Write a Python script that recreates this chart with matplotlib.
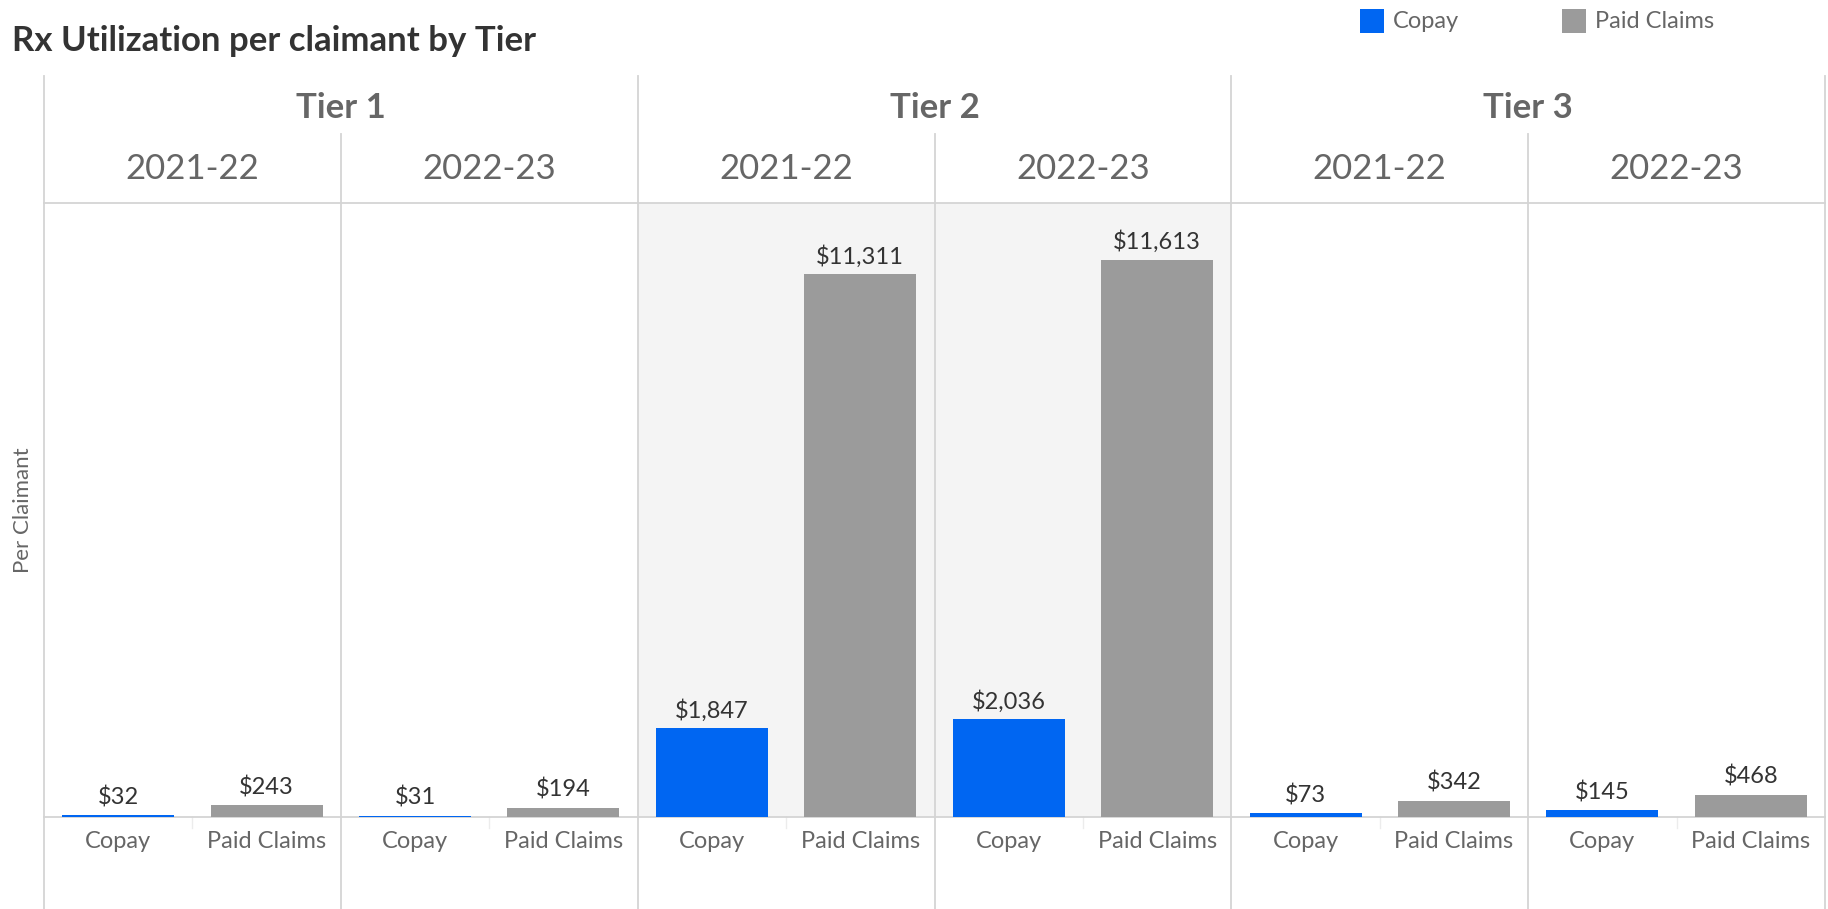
import matplotlib.pyplot as plt
from matplotlib.patches import Rectangle

plt.rcParams['font.family'] = ['Lato', 'DejaVu Sans']

tiers = ['Tier 1', 'Tier 2', 'Tier 3']
years = ['2021-22', '2022-23']
measures = ['Copay', 'Paid Claims']
copay = [32, 31, 1847, 2036, 73, 145]
paid_claims = [243, 194, 11311, 11613, 342, 468]

BLUE = '#0066f2'
GRAY = '#9b9b9b'
LINE = '#d4d4d4'
TXT = '#666666'

W, H = 1828, 909
fig = plt.figure(figsize=(W / 100, H / 100), dpi=100)

# plot area in pixel coords
left, right = 44, 1825
top, base = 203, 817
ax = fig.add_axes([left / W, 1 - base / H, (right - left) / W, (base - top) / H])
ax.set_xlim(0, 6)
ax.set_ylim(0, 12800)
ax.axis('off')

def fy(py):
    # pixel row -> axes fraction
    return (base - py) / (base - top)

tr = ax.get_xaxis_transform()

# shading for tier 2
ax.add_patch(Rectangle((2, 0), 2, 1, transform=tr, fc='#f4f4f4', ec='none', zorder=0))

bw = 0.5 * 0.755
for i in range(6):
    ax.bar(i + 0.25, copay[i], width=bw, color=BLUE, zorder=4)
    ax.bar(i + 0.75, paid_claims[i], width=bw, color=GRAY, zorder=4)
    ax.annotate(f'${copay[i]:,}', (i + 0.25, copay[i]), xytext=(0, 5),
                textcoords='offset points', ha='center', va='bottom',
                fontsize=17, color='#333333')
    ax.annotate(f'${paid_claims[i]:,}', (i + 0.75, paid_claims[i]), xytext=(0, 5),
                textcoords='offset points', ha='center', va='bottom',
                fontsize=17, color='#333333')
    for k, m in enumerate(measures):
        ax.text(i + 0.25 + 0.5 * k, fy(841), m, transform=tr, ha='center', va='center',
                fontsize=17, color=TXT)
    # faint tick between slots
    ax.plot([i + 0.5, i + 0.5], [0, fy(828)], transform=tr, color='#ececec', lw=1,
            clip_on=False, zorder=1)
    ax.text(i + 0.5, fy(169), years[i % 2], transform=tr, ha='center', va='center',
            fontsize=25, color=TXT)

for t, name in enumerate(tiers):
    ax.text(2 * t + 1, fy(108), name, transform=tr, ha='center', va='center',
            fontsize=25, color=TXT, fontweight='bold')

# grid lines
for x in range(7):
    y0 = fy(76) if x % 2 == 0 else fy(134)
    ax.plot([x, x], [fy(909), y0], transform=tr, color=LINE, lw=1.3, clip_on=False, zorder=3)
ax.plot([0, 6], [1, 1], transform=tr, color=LINE, lw=1.3, clip_on=False, zorder=3)
ax.plot([0, 6], [0, 0], transform=tr, color=LINE, lw=1.3, clip_on=False, zorder=3)

fig.text(12 / W, 1 - 41 / H, 'Rx Utilization per claimant by Tier', ha='left', va='center',
         fontsize=25, fontweight='bold', color='#333333')
fig.text(23 / W, 1 - 510 / H, 'Per Claimant', rotation=90, ha='center', va='center',
         fontsize=16, color=TXT)

# legend
for px, label, c in [(1360, 'Copay', BLUE), (1562, 'Paid Claims', GRAY)]:
    fig.patches.append(Rectangle((px / W, 1 - 33 / H), 24 / W, 24 / H, fc=c, ec='none',
                                 transform=fig.transFigure, figure=fig))
    fig.text((px + 33) / W, 1 - 21 / H, label, ha='left', va='center', fontsize=17, color=TXT)

fig.savefig('out.png', dpi=100)
